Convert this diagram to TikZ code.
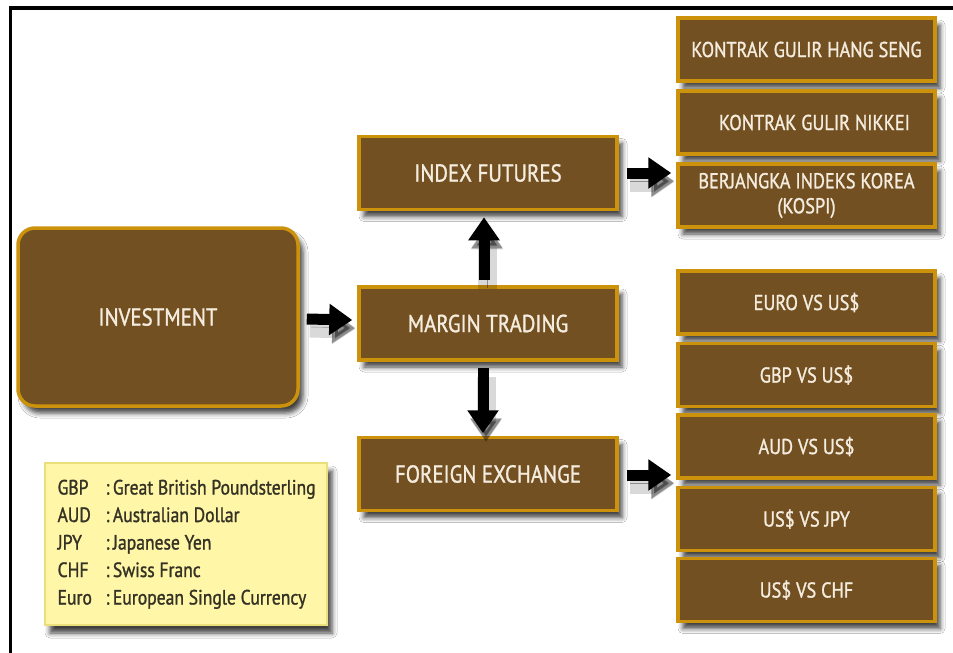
\documentclass[tikz,border=0pt]{standalone}
\usepackage{fontspec}
\setmainfont{PT Sans}[FakeStretch=0.85,FakeBold=1.2]
\usetikzlibrary{calc,arrows.meta,shadows.blur}

\definecolor{boxbrown}{RGB}{115,80,33}
\definecolor{boxgold}{RGB}{204,146,12}
\definecolor{boxtext}{RGB}{244,236,222}
\definecolor{notefill}{RGB}{255,246,168}
\definecolor{noteline}{RGB}{236,222,120}
\definecolor{notetext}{RGB}{52,50,36}

\tikzset{
  card/.style={draw=boxgold, line width=3.5pt, fill=boxbrown, text=boxtext,
    align=center, inner sep=0pt,
    blur shadow={shadow xshift=5pt, shadow yshift=-7pt, shadow blur radius=5pt, shadow opacity=75}},
  midbox/.style={card, minimum width=258pt, minimum height=73pt, font=\fontsize{24.5}{28}\selectfont},
  sidebox/.style={card, minimum width=257pt, minimum height=63pt, font=\fontsize{21.5}{25}\selectfont},
  rootbox/.style={card, rounded corners=17pt, minimum width=280pt, minimum height=178pt, font=\fontsize{24.5}{28}\selectfont},
  notebox/.style={draw=noteline, line width=1.2pt, fill=notefill, text=notetext,
    minimum width=282pt, minimum height=162pt, inner sep=0pt,
    blur shadow={shadow xshift=5pt, shadow yshift=-8pt, shadow blur radius=5pt, shadow opacity=75}},
  conn/.style={draw=black, line width=11pt, -{Triangle[length=23pt,width=30pt]},
    preaction={draw=black, opacity=0.15, line width=19pt, transform canvas={shift={(3pt,-9pt)}}},
    preaction={draw=black, opacity=0.35, transform canvas={shift={(3pt,-8pt)}}}},
  frameline/.style={draw=black, line width=3.5pt}
}

\begin{document}
\begin{tikzpicture}[x=1pt,y=-1pt]
  \useasboundingbox (0,0) rectangle (953,653);
  \fill[white] (0,0) rectangle (953,653);

  % outer frame (top and left edges)
  \coordinate (ftl) at (10.5,8);
  \coordinate (ftr) at (953,8);
  \coordinate (fbl) at (10.5,653);
  \draw[frameline] (ftr) -- (ftl) -- (fbl);

  % main flow
  \node[rootbox] (inv) at (158,317) {INVESTMENT};
  \node[midbox] (idx) at (488,173) {INDEX FUTURES};
  \node[midbox] (mt)  at (488,323.5) {MARGIN TRADING};
  \node[midbox] (fx)  at (488,474) {FOREIGN EXCHANGE};

  % index futures products
  \node[sidebox] (hs) at (806.5,49.5) {KONTRAK GULIR HANG SENG};
  \node[sidebox] (nk) at (806.5,122.5) {\hspace*{16pt}KONTRAK GULIR NIKKEI};
  \node[sidebox] (ko) at (806.5,195.5) {BERJANGKA INDEKS KOREA\\(KOSPI)};

  % currency pairs
  \node[sidebox] (eu)  at (806.5,302.5) {EURO VS US\$};
  \node[sidebox] (gb)  at (806.5,375) {GBP VS US\$};
  \node[sidebox] (au)  at (806.5,446.5) {AUD VS US\$};
  \node[sidebox] (jp)  at (806.5,519) {US\$ VS JPY};
  \node[sidebox] (ch)  at (806.5,590) {US\$ VS CHF};

  % legend
  \node[notebox] (note) at (186,544) {};
  \node[anchor=west, text=notetext, font=\fontsize{20.7}{27.5}\selectfont, align=left, inner sep=0pt]
    (abbr) at ($(note.west)+(13,0)$) {%
    \begin{tabular}{@{}p{48pt}@{}l@{}}
      GBP  & :\,Great British Poundsterling\\
      AUD  & :\,Australian Dollar\\
      JPY  & :\,Japanese Yen\\
      CHF  & :\,Swiss Franc\\
      Euro & :\,European Single Currency
    \end{tabular}};

  % connectors
  \draw[conn] ($(inv.east)+(7,2)$) -- ($(mt.west)+(-5,-3.5)$);
  \draw[conn] ($(mt.north)+(-4,-5)$) -- ($(idx.south)+(-4,6)$);
  \draw[conn] ($(mt.south)+(-5,6)$) -- ($(fx.south)+(-5,-79)$);
  \draw[conn] ($(idx.east)+(8,0)$) -- ($(ko.west)+(-5,-22.5)$);
  \draw[conn] ($(fx.east)+(8,1)$) -- ($(au.west)+(-5,28.5)$);
\end{tikzpicture}
\end{document}
